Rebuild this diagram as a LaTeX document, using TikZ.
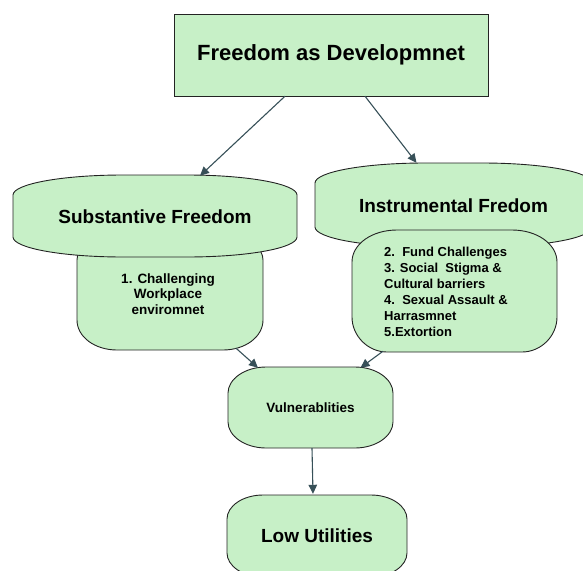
\documentclass[tikz,border=0pt]{standalone}
\usepackage{fontspec}
\setmainfont{Liberation Sans}
\usetikzlibrary{calc,arrows.meta}

\definecolor{boxfill}{RGB}{199,240,199}
\definecolor{boxline}{RGB}{35,35,35}
\definecolor{arrowc}{RGB}{55,80,88}

\tikzset{
  shape line/.style={draw=boxline, fill=boxfill, line width=0.9pt},
  lbl/.style={inner sep=0pt, font=\bfseries},
  flow/.style={draw=arrowc, line width=1.1pt, -{Triangle[length=9pt,width=8.5pt]}}
}

\begin{document}
\begin{tikzpicture}[x=1pt,y=1pt,yscale=-1,xscale=1]
\useasboundingbox (0,0) rectangle (583,570);
\clip (0,0) rectangle (583,570);

%Shape: Rectangle (top)
\draw [shape line] (174,14) rectangle (488,96) ;
%Shape: Rounded Rect (item 1, behind)
\draw [shape line] (77,260) .. controls (77,249) and (88,240) .. (102,240) -- (238,240) .. controls (252,240) and (263,249) .. (263,260) -- (263,320) .. controls (263,337) and (245,350) .. (223,350) -- (117,350) .. controls (95,350) and (77,337) .. (77,320) -- cycle ;
%Shape: Rounded Rect (substantive)
\draw [shape line] (13,195) .. controls (13,184) and (62,175) .. (123,175) -- (187,175) .. controls (248,175) and (297,184) .. (297,195) -- (297,237) .. controls (297,248) and (248,257) .. (187,257) -- (123,257) .. controls (62,257) and (13,248) .. (13,237) -- cycle ;
%Shape: Rounded Rect (instrumental)
\draw [shape line] (315,183) .. controls (315,172) and (364,163) .. (425,163) -- (482,163) .. controls (543,163) and (592,172) .. (592,183) -- (592,227) .. controls (592,238) and (543,247) .. (482,247) -- (425,247) .. controls (364,247) and (315,238) .. (315,227) -- cycle ;
%Shape: Rounded Rect (items 2-5, in front)
\draw [shape line] (352,262) .. controls (352,244) and (372,230) .. (397,230) -- (512,230) .. controls (537,230) and (557,244) .. (557,262) -- (557,317) .. controls (557,336) and (541,352) .. (522,352) -- (387,352) .. controls (368,352) and (352,336) .. (352,317) -- cycle ;
%Shape: Rounded Rect (vulnerablities)
\draw [shape line] (228,393) .. controls (228,379) and (245,367) .. (266,367) -- (355,367) .. controls (376,367) and (393,379) .. (393,393) -- (393,422) .. controls (393,436) and (376,448) .. (355,448) -- (266,448) .. controls (245,448) and (228,436) .. (228,422) -- cycle ;
%Shape: Rounded Rect (low utilities)
\draw [shape line] (227,519) .. controls (227,506) and (243,495) .. (263,495) -- (371,495) .. controls (391,495) and (407,506) .. (407,519) -- (407,553) .. controls (407,566) and (391,577) .. (371,577) -- (263,577) .. controls (243,577) and (227,566) .. (227,553) -- cycle ;

% Text Node
\node [lbl, minimum width=314pt, minimum height=82pt, font=\bfseries\fontsize{22}{26}\selectfont] (top) at (331,55) {Freedom as Developmnet};
% Text Node
\node [lbl, minimum width=284pt, minimum height=82pt, font=\bfseries\fontsize{19}{23}\selectfont] (subst) at (155,217) {Substantive Freedom};
% Text Node
\node [lbl, minimum width=277pt, minimum height=84pt, font=\bfseries\fontsize{19}{23}\selectfont] (instr) at (453.5,206) {Instrumental Fredom};
% Text Node
\node [lbl, minimum width=186pt, minimum height=110pt, align=center, font=\bfseries\fontsize{13.5}{15.5}\selectfont] (item1) at (168,294) {1. Challenging\\Workplace\\enviromnet};
% Text Node
\node [lbl, minimum width=205pt, minimum height=122pt, align=left, font=\bfseries\fontsize{13}{16}\selectfont] (item2) at (446,292) {2.\ \ Fund Challenges\\3. Social\ \ Stigma \&\\Cultural barriers\\4.\ \ Sexual Assault \&\\Harrasmnet\\5.Extortion};
% Text Node
\node [lbl, minimum width=165pt, minimum height=81pt, font=\bfseries\fontsize{13.5}{16}\selectfont] (vuln) at (310.5,407.5) {Vulnerablities};
% Text Node
\node [lbl, minimum width=180pt, minimum height=82pt, font=\bfseries\fontsize{19}{23}\selectfont] (low) at (317,536) {Low Utilities};

%Straight Lines
\draw [flow] ($(top.south)+(-46,0)$) -- ($(subst.north)+(45,0)$) ;
\draw [flow] ($(top.south)+(34,0)$) -- ($(instr.north)+(-37,-1)$) ;
\draw [flow] ($(item1.south)+(68,-1)$) -- ($(vuln.north)+(-52.5,1)$) ;
\draw [flow] ($(item2.south)+(-63,-2)$) -- ($(vuln.north)+(50,1)$) ;
\draw [flow] ($(vuln.south)+(1.5,0)$) -- ($(low.north)+(-4,-1)$) ;

\end{tikzpicture}
\end{document}
